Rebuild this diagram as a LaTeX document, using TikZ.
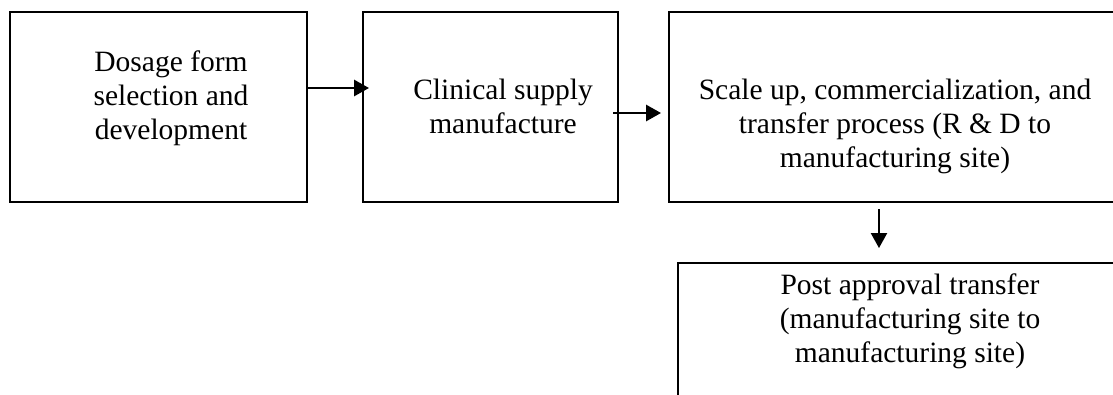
\documentclass[tikz,border=0pt]{standalone}
\usepackage{fontspec}
\setmainfont{Liberation Serif}
\usetikzlibrary{arrows.meta}
\newcommand\pxu{0.4pt}
\tikzset{
  box/.style={draw=black, line width=0.8pt, rectangle, inner sep=0pt},
  label/.style={inner sep=0pt, anchor=north, align=center, font=\fontsize{11.8}{13.6}\selectfont},
  arr/.style={line width=0.9pt, -{Triangle[length=6pt,width=6.5pt]}},
}
\begin{document}
\begin{tikzpicture}[x=0.4pt,y=-0.4pt]
\useasboundingbox (0,0) rectangle (1113,394);
\clip (0,0) rectangle (1113,394);
% boxes
\node[box, minimum width=297*\pxu, minimum height=190*\pxu] (b1) at (158.5,107) {};
\node[box, minimum width=255*\pxu, minimum height=190*\pxu] (b2) at (490.5,107) {};
\node[box, minimum width=471*\pxu, minimum height=190*\pxu] (b3) at (904.5,107) {};
\node[box, minimum width=462*\pxu, minimum height=157*\pxu] (b4) at (909,341.5) {};
% texts
\node[label] (t1) at (171,50) {Dosage form\\selection and\\development};
\node[label] (t2) at (503,79) {Clinical supply\\manufacture};
\node[label] (t3) at (895,79) {Scale up, commercialization, and\\transfer process (R \& D to\\manufacturing site)};
\node[label] (t4) at (910,273) {Post approval transfer\\(manufacturing site to\\manufacturing site)};
% arrows
\draw[arr, shorten >=-2.8pt] (b1.east |- 0,88) -- (b2.west |- 0,88);
\draw[arr, shorten <=-2.4pt, shorten >=2.8pt] (b2.east |- 0,113) -- (b3.west |- 0,113);
\draw[arr, line width=0.6pt, shorten <=2.4pt, shorten >=5.6pt] (b3.south -| 879,0) -- (b4.north -| 879,0);
\end{tikzpicture}
\end{document}
